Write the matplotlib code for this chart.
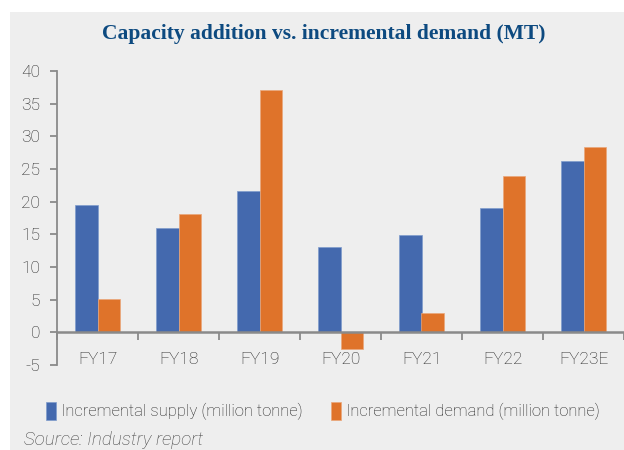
import matplotlib
matplotlib.use('Agg')
import matplotlib.pyplot as plt
import numpy as np
from matplotlib.patches import Rectangle

years = ['FY17', 'FY18', 'FY19', 'FY20', 'FY21', 'FY22', 'FY23E']
supply = [19.5, 16.0, 21.6, 13.1, 14.9, 19.1, 26.2]
demand = [5.1, 18.1, 37.1, -2.5, 3.0, 24.0, 28.3]
yticks = [-5, 0, 5, 10, 15, 20, 25, 30, 35, 40]

blue = '#4469ae'
orange = '#df732a'
bg = '#eeeeee'
grey = '#8a8a8a'
txt = '#222222'

plt.rcParams['font.family'] = ['Roboto', 'DejaVu Sans']

fig = plt.figure(figsize=(6.24, 4.5), dpi=100)
fig.patches.append(Rectangle((10 / 624, 0), 1, 1 - 12 / 450, transform=fig.transFigure,
                             facecolor=bg, edgecolor='none', zorder=-10))

ax = fig.add_axes([57 / 624, 1 - 365 / 450, 567 / 624, 294 / 450])
ax.patch.set_alpha(0)

x = np.arange(len(years))
w = 0.28
ax.bar(x - w / 2, supply, w, color=blue, edgecolor='#7f9ccc', linewidth=0.5,
       label='Incremental supply (million tonne)')
ax.bar(x + w / 2, demand, w, color=orange, edgecolor='#eaa67a', linewidth=0.5,
       label='Incremental demand (million tonne)')

ax.set_xlim(-0.5, len(years) - 0.5)
ax.set_ylim(-5, 40)
ax.set_yticks(yticks)
ax.set_yticklabels([str(v) for v in yticks], fontsize=12.5, color=txt, fontweight='light')

for s in ['top', 'right']:
    ax.spines[s].set_visible(False)
ax.spines['bottom'].set_position(('data', 0))
ax.spines['bottom'].set_color(grey)
ax.spines['bottom'].set_linewidth(1.8)
ax.spines['left'].set_color(grey)
ax.spines['left'].set_linewidth(1.3)
ax.tick_params(axis='y', length=5, width=1.3, color=grey, pad=7, direction='out')

ax.set_xticks(np.arange(len(years) + 1) - 0.5)
ax.set_xticklabels([])
ax.tick_params(axis='x', which='major', length=6, width=1.3, color=grey, direction='out')
ax.set_xticks(x, minor=True)
ax.set_xticklabels(years, minor=True, fontsize=12.5, color=txt, fontweight='light')
ax.tick_params(axis='x', which='minor', length=0, pad=14)

fig.text(324 / 624, 1 - 34 / 450, 'Capacity addition vs. incremental demand (MT)',
         ha='center', va='center', fontsize=15.5, fontweight='bold',
         family='Liberation Serif', color='#0d4a80')

leg = fig.legend(loc='center', bbox_to_anchor=(323 / 624, 1 - 411 / 450), ncol=2, frameon=False,
                 handlelength=0.6, handleheight=1.3, handletextpad=0.3,
                 columnspacing=1.7, borderpad=0, prop={'size': 12, 'weight': 'light'})
for t in leg.get_texts():
    t.set_color(txt)

fig.text(24 / 624, 1 - 440 / 450, 'Source: Industry report', ha='left', va='center',
         fontsize=13.5, style='italic', fontweight='light', color='#444444')

fig.savefig('out.png', dpi=100, facecolor='white')
